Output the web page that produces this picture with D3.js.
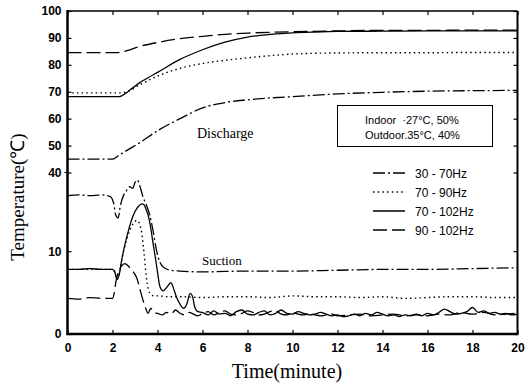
<!DOCTYPE html>
<html><head><meta charset="utf-8">
<script src="https://cdn.jsdelivr.net/npm/d3@7"></script>
<style>body{margin:0;background:#fff}svg{display:block}</style>
</head><body>
<script>
// ---- data ----
const xTicks = [0,2,4,6,8,10,12,14,16,18,20];
const yTicks = [0,10,40,50,60,70,80,90,100];
const seriesNames = ["30 - 70Hz","70 - 90Hz","70 - 102Hz","90 - 102Hz"];
const conditionLines = ["Indoor  \u00b727\u00b0C, 50%","Outdoor.35\u00b0C, 40%"];

// Discharge temperatures
const dis3070T = [0,2.0,2.3,2.7,3.2,4,5,6,7,8,9,10,12,14,16,18,20];
const dis3070V = [45,45,46.5,48.5,51,55.5,60,64,66,67,67.7,68.2,69.2,69.8,70.2,70.4,70.5];
const dis7090T = [0,2.4,2.8,3.2,4,5,6,7,8,9,10,11,12,14,16,18,20];
const dis7090V = [69.6,69.6,70.6,72.5,75.8,78.7,80.5,81.7,82.6,83.4,84,84.3,84.4,84.5,84.5,84.6,84.6];
const dis70102T = [0,2.3,2.6,2.8,3.2,3.6,4,5,6,7,8,9,10,11,12,14,16,18,20];
const dis70102V = [68.2,68.2,69.5,70.8,73.3,75.3,77.2,82,85.6,88.4,90.3,91.3,91.9,92.2,92.4,92.5,92.6,92.6,92.6];
const dis90102T = [0,2.2,2.6,3.2,4,5,6,7,8,9,10,12,14,16,18,20];
const dis90102V = [84.5,84.5,85.2,86.8,88.3,89.7,90.6,91.3,91.8,92.1,92.3,92.6,92.8,92.8,92.9,92.9];

// Suction temperatures
const suc3070T = [0,0.5,1.0,1.5,1.9,2.05,2.15,2.25,2.35,2.5,2.6,2.75,2.9,3.0,3.1,3.2,3.35,3.5,3.65,3.8,3.95,4.1,4.3,4.6,5,6,8,10,12,14,16,18,20];
const suc3070V = [16.7,16.8,16.7,16.8,16.6,15.8,14.3,14.0,15.5,16.8,17.2,17.8,17.6,18.3,18.6,18.0,16.6,15.6,14.4,12.5,10.2,8.7,8.0,7.7,7.6,7.5,7.6,7.6,7.7,7.8,7.8,7.9,8.0];
const suc7090T = [0,2.0,2.1,2.2,2.3,2.4,2.55,2.7,2.85,3.0,3.1,3.2,3.3,3.4,3.5,3.6,3.7,3.85,4.0,4.5,5,6,7,8,9,10,11,12,13,14,15,16,17,18,19,20];
const suc7090V = [7.8,7.8,7.5,6.6,7.2,8.8,10.6,12.0,13.0,13.6,13.7,13.3,12.2,9.8,7.0,5.3,4.8,4.6,4.6,4.5,4.5,4.4,4.5,4.5,4.4,4.6,4.5,4.5,4.4,4.5,4.3,4.4,4.5,4.5,4.4,4.4];
const suc70102T = [0,0.5,1,1.5,2.0,2.1,2.2,2.3,2.4,2.55,2.7,2.85,3.0,3.15,3.3,3.4,3.5,3.6,3.7,3.8,3.9,4.0,4.1,4.25,4.4,4.6,4.7,4.85,5.0,5.15,5.3,5.45,5.55,5.65,5.8,
  6.0,6.25,6.5,6.75,7.0,7.25,7.5,7.75,8.0,8.25,8.5,8.75,9.0,9.25,9.5,9.75,10,10.25,10.5,10.75,11,11.25,11.5,11.75,12,12.25,12.5,12.75,13,13.25,13.5,13.75,14,14.25,14.5,14.75,15,15.25,15.5,15.75,16,16.25,16.5,16.75,17,17.25,17.5,17.75,18,18.25,18.5,18.75,19,19.25,19.5,19.75,20];
const suc70102V = [7.8,7.8,7.9,7.8,7.8,7.5,6.6,7.2,8.8,10.8,12.4,13.8,14.8,15.4,15.7,15.6,15.0,14.2,12.8,11.0,9.3,7.5,5.8,5.2,5.6,6.2,5.6,4.4,3.6,3.1,3.6,4.9,4.6,3.3,2.7,
  2.6,2.3,2.8,2.4,2.5,2.2,2.7,2.9,2.4,2.3,2.6,2.8,2.3,2.5,2.9,2.5,2.4,2.7,2.5,2.3,2.4,2.6,2.4,2.2,2.3,2.1,2.2,2.4,2.2,2.5,2.3,2.6,2.4,2.2,2.3,2.1,2.3,2.2,2.4,2.2,2.5,2.3,2.6,3.0,2.7,2.4,2.5,2.7,3.2,2.6,2.8,2.5,2.6,2.4,2.5,2.3,2.4];
const suc90102T = [0,0.5,1.0,1.5,2.0,2.08,2.15,2.25,2.4,2.55,2.7,2.85,3.0,3.1,3.2,3.3,3.45,3.58,3.7,3.85,4.0,4.2,4.4,4.6,4.8,5.0,5.2,5.4,5.6,5.8,6.0,
  6.25,6.5,6.75,7.0,7.25,7.5,7.75,8.0,8.25,8.5,8.75,9.0,9.25,9.5,9.75,10,10.25,10.5,10.75,11,11.25,11.5,11.75,12,12.5,13,13.5,14,14.5,15,15.5,16,16.5,17,17.5,18,18.5,19,19.5,20];
const suc90102V = [4.3,4.2,4.4,4.3,4.3,5.0,6.3,7.4,8.2,8.5,8.2,7.7,7.2,6.6,5.6,4.6,3.3,2.5,3.1,2.6,2.5,2.3,2.6,2.4,2.9,2.5,2.3,2.6,2.4,2.2,2.5,
  2.7,2.3,2.6,2.8,2.4,2.3,2.5,2.8,2.6,2.3,2.4,2.7,2.8,2.4,2.3,2.6,2.4,2.3,2.5,2.3,2.2,2.3,2.4,2.2,2.3,2.4,2.2,2.3,2.4,2.2,2.3,2.2,2.4,2.3,2.6,2.4,2.6,2.3,2.4,2.5];

// ---- chart ----
const W = 532, H = 385;
const svg = d3.select("body").append("svg").attr("width", W).attr("height", H);
const x = d3.scaleLinear().domain([0,20]).range([67.5,517.5]);
// broken axis: lower 0-19.5 segment, upper 40-100 segment
const y = d3.scaleLinear().domain([0,19.5,40,100]).range([334,172.5,172.5,11]);

const styles = [
  {dash:"12,3,2,3"},
  {dash:"1.5,3.2"},
  {dash:null},
  {dash:"14,5"}
];

svg.append("clipPath").attr("id","clip").append("rect")
  .attr("x",x(0)).attr("y",y(100)).attr("width",x(20)-x(0)).attr("height",y(0)-y(100));

const line = d3.line().x(d=>x(d[0])).y(d=>y(d[1])).curve(d3.curveMonotoneX);
const curves = [
  [dis3070T,dis3070V,0],[dis7090T,dis7090V,1],[dis70102T,dis70102V,2],[dis90102T,dis90102V,3],
  [suc3070T,suc3070V,0],[suc7090T,suc7090V,1],[suc70102T,suc70102V,2],[suc90102T,suc90102V,3]
];
const g = svg.append("g").attr("clip-path","url(#clip)");
curves.forEach(([ts,vs,s])=>{
  g.append("path").datum(ts.map((t,i)=>[t,vs[i]]))
    .attr("d",line).attr("fill","none").attr("stroke","#000")
    .attr("stroke-width", s===1?1.4:1.3)
    .attr("stroke-dasharray", styles[s].dash);
});

// axes
const xb = svg.append("g").attr("transform",`translate(0,${y(0)})`)
  .call(d3.axisBottom(x).tickValues(xTicks).tickSize(-4).tickPadding(9).tickFormat(d3.format("d")));
const xt = svg.append("g").attr("transform",`translate(0,${y(100)})`)
  .call(d3.axisTop(x).tickValues(xTicks).tickSize(-4).tickFormat(""));
const yl = svg.append("g").attr("transform",`translate(${x(0)},0)`)
  .call(d3.axisLeft(y).tickValues(yTicks).tickSize(-4).tickPadding(6).tickFormat(d3.format("d")));
const yr = svg.append("g").attr("transform",`translate(${x(20)},0)`)
  .call(d3.axisRight(y).tickValues(yTicks).tickSize(-4).tickFormat(""));
[xb,xt,yl,yr].forEach(a=>{
  a.select(".domain").remove();
  a.attr("font-family","'Liberation Sans', Arial, sans-serif").attr("font-size",12).attr("font-weight","bold");
  a.selectAll(".tick line").attr("stroke","#000").attr("stroke-width",1.2);
  a.selectAll("text").attr("fill","#000").attr("font-weight","bold").attr("font-size",12);
});
// small outward break tick at 40
svg.append("line").attr("x1",x(0)-3).attr("x2",x(0)).attr("y1",y(40)).attr("y2",y(40)).attr("stroke","#000").attr("stroke-width",1.2);

// frame
const fr = (x1,y1,x2,y2,w)=>svg.append("line").attr("x1",x1).attr("y1",y1).attr("x2",x2).attr("y2",y2).attr("stroke","#000").attr("stroke-width",w);
fr(x(0),y(100),x(20),y(100),1.5);
fr(x(20),y(100),x(20),y(0),2);
fr(x(0),y(100)-1,x(0),y(0)+1,2.5);
fr(x(0)-1,y(0),x(20)+1,y(0),2.5);

// axis titles
const serif = "'Liberation Serif','Times New Roman',serif";
svg.append("text").attr("x",287).attr("y",378).attr("text-anchor","middle")
  .style("font",`20px ${serif}`).text("Time(minute)");
svg.append("text").attr("transform","translate(24,197) rotate(-90)").attr("text-anchor","middle")
  .style("font",`19px ${serif}`).text("Temperature(\u2103)");

// annotations
svg.append("text").attr("x",197).attr("y",138).style("font",`14px ${serif}`).text("Discharge");
svg.append("text").attr("x",202).attr("y",265).style("font",`13px ${serif}`).text("Suction");

// conditions box
svg.append("rect").attr("x",337.5).attr("y",105.5).attr("width",155).attr("height",41)
  .attr("fill","#fff").attr("stroke","#000").attr("stroke-width",1);
const sans = "'Liberation Sans', Arial, sans-serif";
conditionLines.forEach((t,i)=>{
  svg.append("text").attr("x",365).attr("y",124+i*15).style("font",`11px ${sans}`)
    .attr("xml:space","preserve").style("white-space","pre").text(t);
});

// legend
seriesNames.forEach((n,i)=>{
  const yy = 173 + i*19;
  svg.append("line").attr("x1",373).attr("x2",405).attr("y1",yy).attr("y2",yy)
    .attr("stroke","#000").attr("stroke-width",i===1?1.4:1.5).attr("stroke-dasharray",styles[i].dash);
  svg.append("text").attr("x",415).attr("y",yy+4.5).style("font",`12px ${sans}`).text(n);
});
</script>
</body></html>
